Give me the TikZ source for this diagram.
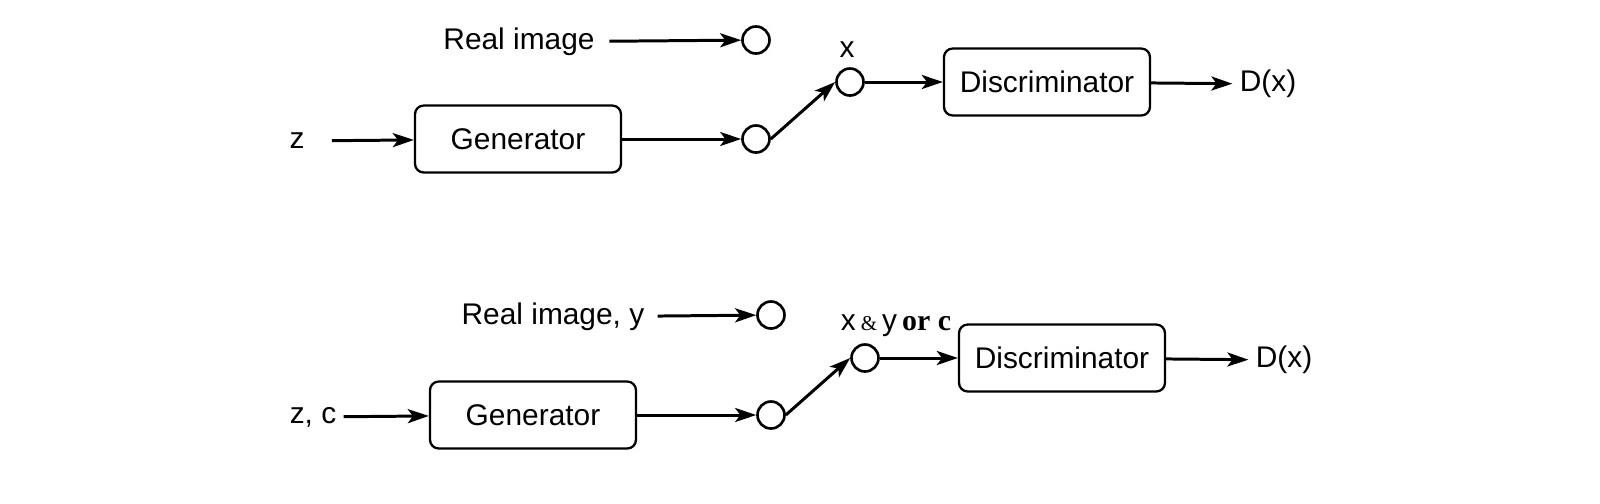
\documentclass[tikz,border=0pt]{standalone}
\usepackage{fontspec}
\setmainfont{Liberation Sans}
\newfontfamily\timesfont{Liberation Serif}
\usepackage{tikz}
\usetikzlibrary{shapes.geometric, arrows.meta}
\tikzstyle{process} = [rectangle, rounded corners=5pt, minimum width=4.12cm,
    minimum height=1.34cm, text centered, draw=black, line width=1.3pt]
\tikzstyle{port} = [circle, minimum size=0.54cm, inner sep=0pt,
    draw=black, line width=1.5pt]
\tikzstyle{txt} = [inner sep=4pt]
\tikzstyle{arrow} = [line width=1.7pt,->,>={Stealth[length=12pt,width=8pt,inset=3pt]}]

\begin{document}
\begin{tikzpicture}[font=\fontsize{17}{20}\selectfont]
            \useasboundingbox (-10.36,-7.28) rectangle (21.64,2.78);
            % GAN
            \node (gen) [process] {Generator};
            \node (z) [txt, left of=gen, xshift=-3.42cm, yshift=-0.04cm] {z};
            \node (genout) [port, right of=gen, xshift=3.76cm] {};
            \node (realin) [port, above of=genout, yshift=0.98cm] {};
            \node (real) [txt, left of=realin, xshift=-3.74cm, yshift=-0.04cm] {Real image};
            \node (xin) [port, right of=genout, xshift=0.88cm, yshift=1.14cm] {};
            \node (xlab) [txt, above of=xin, yshift=-0.36cm, xshift=-0.06cm] {x};
            \node (disc) [process, right of=xin, xshift=2.94cm] {Discriminator};
            \node (dx) [txt, right of=disc, xshift=3.42cm, yshift=-0.04cm] {D(x)};

            \draw [arrow, shorten <=0.4cm] (z) -- (gen);
            \draw [arrow] (gen) -- (genout);
            \draw [arrow, shorten <=0.15cm] (real) -- (realin);
            \draw [arrow] (genout.east) -- (xin.west);
            \draw [arrow] (xin) -- (disc);
            \draw [arrow] (disc) -- (dx);

            % conditional GAN
            \node (gencond) [process, below of=gen, xshift=0.3cm, yshift=-4.52cm] {Generator};
            \node (zc) [txt, left of=gencond, xshift=-3.4cm, yshift=-0.04cm] {z, c};
            \node (gencondout) [port, right of=gencond, xshift=3.76cm] {};
            \node (realcondin) [port, above of=gencondout, yshift=1.0cm] {};
            \node (realcond) [txt, left of=realcondin, xshift=-3.36cm, yshift=-0.04cm] {Real image, y};
            \node (xcondin) [port, right of=gencondout, xshift=0.88cm, yshift=1.14cm] {};
            \node (xcondlab) [txt, above of=xcondin, yshift=-0.36cm, xshift=0.62cm]
                {x\,{\timesfont\fontsize{12}{12}\selectfont\&}\,y\,{\timesfont\bfseries or c}};
            \node (disccond) [process, right of=xcondin, xshift=2.94cm] {Discriminator};
            \node (dxcond) [txt, right of=disccond, xshift=3.44cm, yshift=-0.04cm] {D(x)};

            \draw [arrow] (zc) -- (gencond);
            \draw [arrow] (gencond) -- (gencondout);
            \draw [arrow, shorten <=0.12cm] (realcond) -- (realcondin);
            \draw [arrow] (gencondout.east) -- (xcondin.west);
            \draw [arrow] (xcondin) -- (disccond);
            \draw [arrow] (disccond) -- (dxcond);
        \end{tikzpicture}
\end{document}
